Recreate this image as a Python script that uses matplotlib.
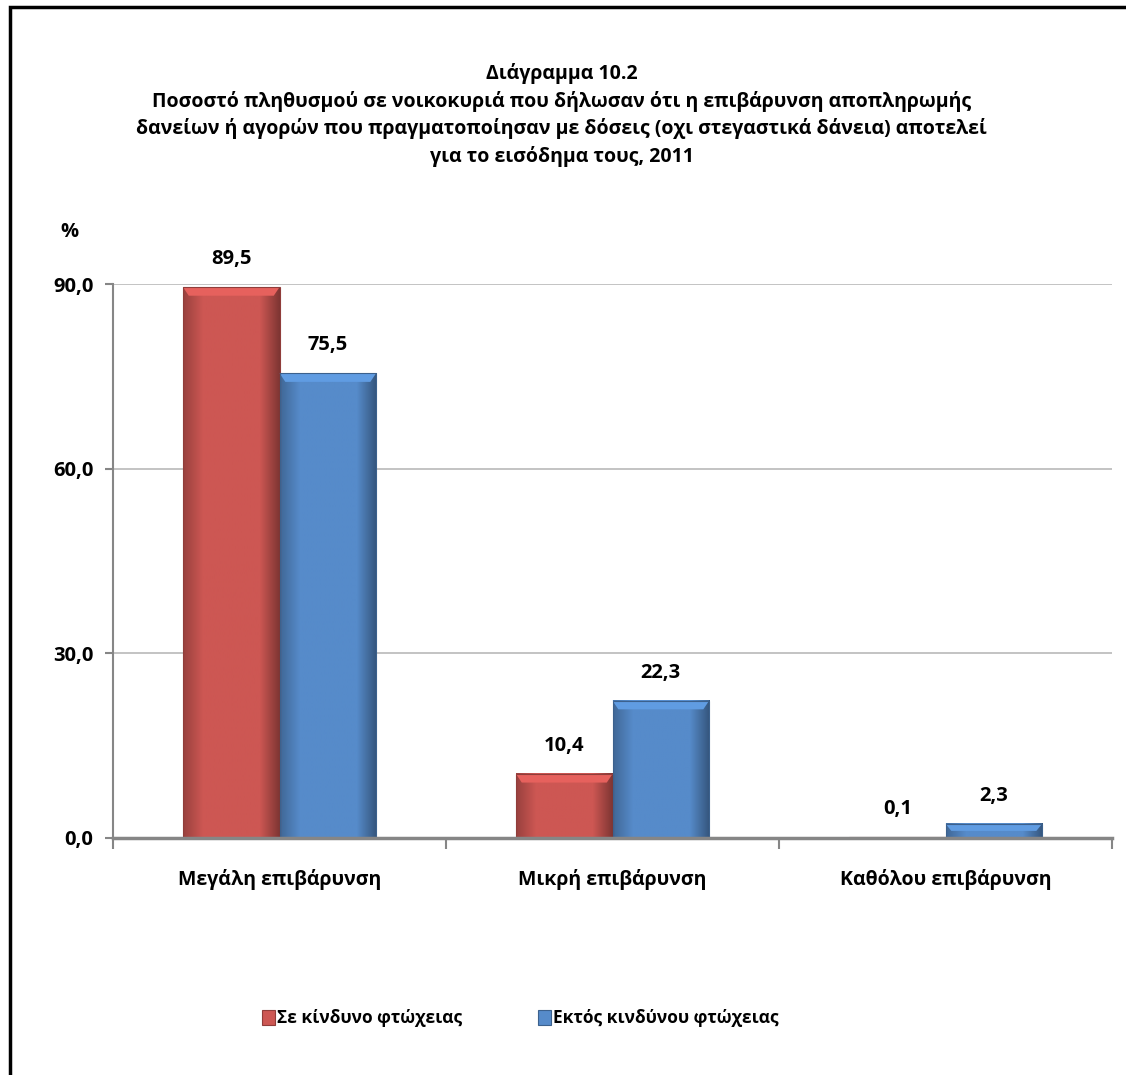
import matplotlib
import numpy as np

matplotlib.use("Agg")
import matplotlib.pyplot as plt
from matplotlib.colors import LinearSegmentedColormap, to_rgb
from matplotlib.patches import Polygon, Rectangle

categories = ["Μεγάλη επιβάρυνση", "Μικρή επιβάρυνση", "Καθόλου επιβάρυνση"]
at_risk = [89.5, 10.4, 0.1]
not_at_risk = [75.5, 22.3, 2.3]
series_names = ["Σε κίνδυνο φτώχειας", "Εκτός κινδύνου φτώχειας"]
yticks = [0.0, 30.0, 60.0, 90.0]
title = (
    "Διάγραμμα 10.2\n"
    "Ποσοστό πληθυσμού σε νοικοκυριά που δήλωσαν ότι η επιβάρυνση αποπληρωμής\n"
    "δανείων ή αγορών που πραγματοποίησαν με δόσεις (οχι στεγαστικά δάνεια) αποτελεί\n"
    "για το εισόδημα τους, 2011"
)

RED = "#CD5753"
BLUE = "#568BCA"
FONT = ["Open Sans", "DejaVu Sans"]

plt.rcParams["font.family"] = FONT
plt.rcParams["font.weight"] = "bold"


def shade(color, factor):
    rgb = np.array(to_rgb(color))
    return tuple(np.clip(rgb * factor, 0, 1))


def bevel_bar(ax, x0, width, height, color):
    # horizontal gradient: darker at both sides, flat in the middle
    cmap = LinearSegmentedColormap.from_list(
        "bar", [shade(color, 0.75), color, color, color, color, shade(color, 0.62)]
    )
    grad = np.linspace(0, 1, 64).reshape(1, -1)
    ax.imshow(
        grad, cmap=cmap, aspect="auto", extent=(x0, x0 + width, 0, height),
        zorder=3, interpolation="bilinear",
    )
    # lighter bevel on top
    cap = min(1.4, height * 0.5)
    inset = width * 0.06
    ax.add_patch(Polygon(
        [(x0, height), (x0 + width, height), (x0 + width - inset, height - cap),
         (x0 + inset, height - cap)],
        closed=True, facecolor=shade(color, 1.12), edgecolor="none", zorder=4,
    ))
    ax.add_patch(Rectangle(
        (x0, 0), width, height, facecolor="none",
        edgecolor=shade(color, 0.7), linewidth=0.8, zorder=5,
    ))


fig = plt.figure(figsize=(11.26, 10.75), dpi=100)
ax = fig.add_axes([0.1004, 0.2205, 0.8872, 0.5153])

x = np.arange(len(categories))
width = 0.29
for i in x:
    for offset, values, color in ((-width, at_risk, RED), (0, not_at_risk, BLUE)):
        bevel_bar(ax, i + offset, width, values[i], color)
        ax.text(
            i + offset + width / 2, values[i] + 2.9, f"{values[i]:.1f}".replace(".", ","),
            ha="center", va="bottom", fontsize=14.5, fontweight="bold",
        )

ax.set_xlim(-0.5, len(categories) - 0.5)
ax.set_ylim(0, 90)
ax.set_yticks(yticks, [f"{v:.1f}".replace(".", ",") for v in yticks])
ax.set_xticks(x, categories)
ax.set_xticks(np.arange(len(categories) + 1) - 0.5, minor=True)
ax.tick_params(axis="x", which="major", length=0, pad=22, labelsize=14)
ax.tick_params(axis="x", which="minor", length=8, width=1.5, color="#868686")
ax.tick_params(axis="y", length=6, width=1.5, color="#868686", pad=8, labelsize=14.5)
ax.grid(axis="y", color="#BEBEBE", linewidth=1.3)
ax.set_axisbelow(True)
for side in ("top", "right"):
    ax.spines[side].set_visible(False)
ax.spines["left"].set_color("#868686")
ax.spines["left"].set_linewidth(1.5)
ax.spines["bottom"].set_color("#868686")
ax.spines["bottom"].set_linewidth(2.5)
ax.spines["bottom"].set_zorder(6)

fig.text(0.0613, 0.784, "%", fontsize=14.5, fontweight="bold", ha="center", va="center")
fig.text(0.499, 0.893, title, fontsize=14, fontweight="bold", ha="center", va="center",
         linespacing=1.42)

legend_y = 1 - 1018 / 1075
for x0, name, color in ((262, series_names[0], RED), (538, series_names[1], BLUE)):
    fig.patches.append(Rectangle(
        (x0 / 1126, legend_y - 7 / 1075), 13 / 1126, 15 / 1075,
        transform=fig.transFigure, facecolor=color, edgecolor=shade(color, 0.7),
        linewidth=0.8,
    ))
    fig.text((x0 + 15) / 1126, legend_y, name, fontsize=12.5, fontweight="bold",
             va="center", ha="left")

fig.patches.append(Rectangle(
    (9.5 / 1126, -0.05), 1.2, 1 - 6.5 / 1075 + 0.05, transform=fig.transFigure,
    facecolor="none", edgecolor="black", linewidth=2.5,
))

fig.savefig("out.png", dpi=100)
